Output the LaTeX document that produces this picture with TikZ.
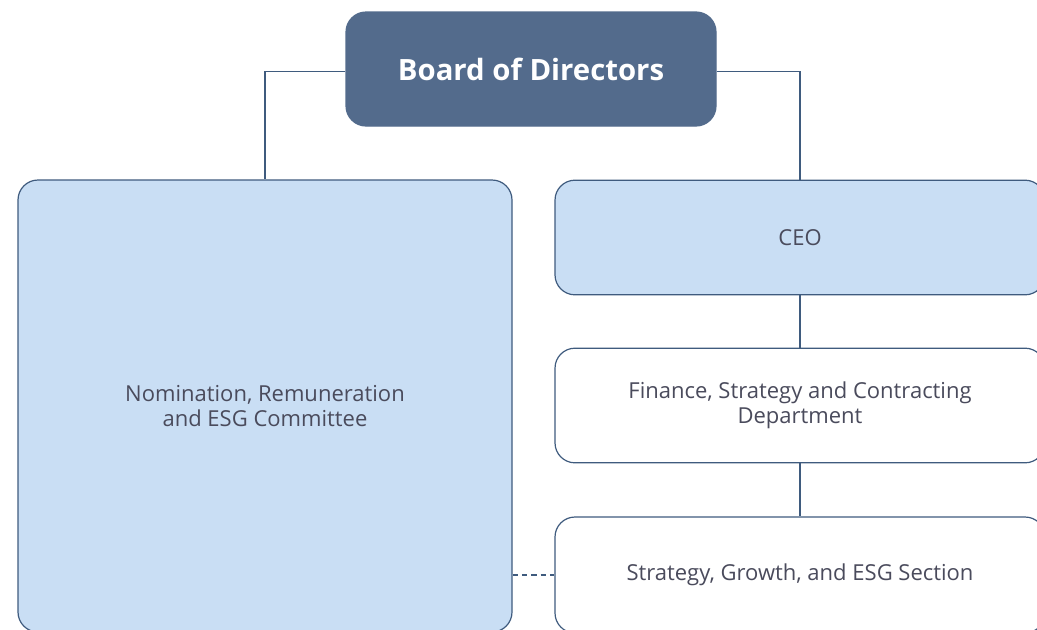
\documentclass[tikz,border=0pt]{standalone}
\usepackage{fontspec}
\setmainfont{Open Sans}
\definecolor{boardblue}{HTML}{536B8C}
\definecolor{paleblue}{HTML}{C9DEF4}
\definecolor{edgeblue}{HTML}{3F5B7E}
\definecolor{txtgray}{HTML}{4A4B5C}
\tikzset{
  unit/.style={draw=edgeblue, line width=0.9pt, rounded corners=15pt, align=center,
    text=txtgray, font=\fontsize{16.5}{18.5}\selectfont, inner sep=0pt},
  link/.style={draw=edgeblue, line width=0.8pt}
}
\begin{document}
\begin{tikzpicture}[x=0.75pt,y=-0.75pt]
\clip (0,0) rectangle (1037,629);
\useasboundingbox (0,0) rectangle (1037,629);
\node[unit, fill=boardblue, draw=boardblue, text=white, font=\fontsize{22}{26}\bfseries,
  minimum width=277.5pt, minimum height=85.5pt] (board) at (531,69) {Board of Directors};
\node[unit, fill=paleblue, minimum width=370.5pt, minimum height=339pt] (nom) at (265,406) {Nomination, Remuneration\\and ESG Committee};
\node[unit, fill=paleblue, minimum width=367.5pt, minimum height=86pt] (ceo) at (800,237.5) {CEO};
\node[unit, fill=white, minimum width=367.5pt, minimum height=86pt] (fin) at (800,405.5) {Finance, Strategy and Contracting\\Department};
\node[unit, fill=white, minimum width=367.5pt, minimum height=87pt] (sgs) at (800,575) {Strategy, Growth, and ESG Section};
\draw[link] ([yshift=-2pt]board.west) -| (nom.north);
\draw[link] ([yshift=-2pt]board.east) -| (ceo.north);
\draw[link] (ceo) -- (fin);
\draw[link] (fin) -- (sgs);
\draw[link, dash pattern=on 4pt off 3pt] (sgs.west -| nom.east) -- (sgs.west);
\end{tikzpicture}
\end{document}
